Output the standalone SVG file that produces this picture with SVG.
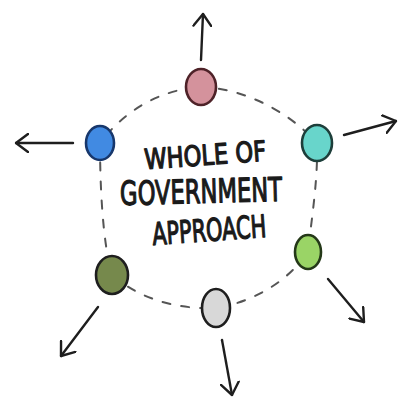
<svg xmlns="http://www.w3.org/2000/svg" width="399" height="400" viewBox="0 0 399 400">
  <style>
    .ring { fill: none; stroke: #555555; stroke-width: 2; stroke-dasharray: 8 11; stroke-linecap: round; }
    .arrow { fill: none; stroke: #1e1e1e; stroke-width: 2.4; stroke-linecap: round; marker-end: url(#head); }
    .dot { stroke-width: 2.6; }
    .label { font-family: "DejaVu Sans", "Liberation Sans", sans-serif; font-weight: normal; fill: #1a1a1a; stroke: #1a1a1a; stroke-width: 1.3; stroke-linejoin: round; text-anchor: middle; }
  </style>
  <defs>
    <marker id="head" viewBox="0 0 14 20" refX="13" refY="10" markerWidth="14" markerHeight="20" markerUnits="userSpaceOnUse" orient="auto">
      <path d="M1,1 L13,10 L1,19" fill="none" stroke="#1e1e1e" stroke-width="2.4" stroke-linecap="round" stroke-linejoin="round"/>
    </marker>
  </defs>

  <rect width="399" height="400" fill="#ffffff"/>

  <!-- dashed ring joining the six points and the outward arrows -->
  <g id="connectors">
    <path class="ring" d="M200,87 C240,88 285,108 317,143 C318,180 312,215 308,252 C285,285 250,302 217,308 C170,310 135,295 112,275 C102,240 100,180 100,143 C125,110 160,90 200,87 Z"/>
    <path class="arrow" d="M201,60 L203,14"/>
    <path class="arrow" d="M73,143 L16,143"/>
    <path class="arrow" d="M344,135 L396,121"/>
    <path class="arrow" d="M328,279 L364,322"/>
    <path class="arrow" d="M98,307 L61,356"/>
    <path class="arrow" d="M222,340 L232,395"/>
  </g>

  <g id="node-red">
    <ellipse class="dot" cx="201" cy="87" rx="15" ry="18" fill="#d4929c" stroke="#4e2228"/>
  </g>
  <g id="node-teal">
    <ellipse class="dot" cx="317" cy="143" rx="15" ry="18" fill="#68d5cb" stroke="#1d3e3a"/>
  </g>
  <g id="node-green">
    <ellipse class="dot" cx="308" cy="252" rx="13" ry="17" fill="#9ad466" stroke="#243818"/>
  </g>
  <g id="node-grey">
    <ellipse class="dot" cx="216" cy="308" rx="14" ry="19" fill="#d8d8d8" stroke="#1e1e1e"/>
  </g>
  <g id="node-olive">
    <ellipse class="dot" cx="112" cy="275" rx="16" ry="19" fill="#76894c" stroke="#1e1e1e"/>
  </g>
  <g id="node-blue">
    <ellipse class="dot" cx="100" cy="143" rx="14" ry="17" fill="#418ae2" stroke="#17376c"/>
  </g>

  <g id="title">
    <text class="label" x="205" y="165" font-size="28" textLength="122" lengthAdjust="spacingAndGlyphs" transform="rotate(-4 205 152)">WHOLE OF</text>
    <text class="label" x="201" y="203" font-size="33" textLength="162" lengthAdjust="spacingAndGlyphs" transform="rotate(-1.5 201 190)">GOVERNMENT</text>
    <text class="label" x="209" y="241" font-size="31" textLength="114" lengthAdjust="spacingAndGlyphs" transform="rotate(-4 209 227)">APPROACH</text>
  </g>
</svg>
